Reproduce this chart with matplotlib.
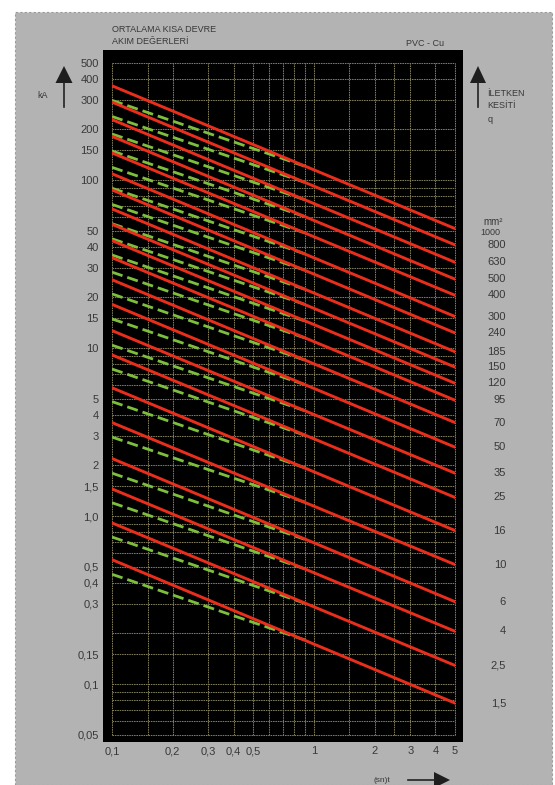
import numpy as np
import matplotlib
matplotlib.use("Agg")
from matplotlib import pyplot as plt
from matplotlib.patches import Rectangle, Polygon
from matplotlib.lines import Line2D
from matplotlib.transforms import blended_transform_factory

plt.rcParams['font.family'] = ['Liberation Sans', 'DejaVu Sans']

# cross sections (mm2) and short circuit current (kA)
sections = ["1,5", "2,5", "4", "6", "10", "16", "25", "35", "50", "70", "95",
            "120", "150", "185", "240", "300", "400", "500", "630", "800", "1000"]
red_t = [0.1, 5]
red_start = [0.55, 0.91, 1.45, 2.2, 3.6, 5.8, 9.1, 12.7, 18.2, 25.5, 34.5,
             43.6, 54.5, 67.3, 87.3, 109, 145, 182, 229, 291, 364]   # at t=0.1
red_end = [0.077, 0.129, 0.206, 0.309, 0.514, 0.82, 1.29, 1.8, 2.57, 3.6, 4.89,
           6.17, 7.7, 9.5, 12.3, 15.4, 20.6, 25.7, 32.4, 41.1, 51.4]  # at t=5
green_t = [0.1, 0.9]
green_start = [0.45, 0.75, 1.2, 1.8, 2.95, 4.8, 7.5, 10.4, 14.9, 21, 28.3,
               35.8, 44.7, 55, 71.6, 89.4, 119, 149, 188, 239, 298]
green_end = [0.183, 0.303, 0.485, 0.727, 1.21, 1.94, 3.03, 4.24, 6.06, 8.48, 11.5,
             14.5, 18.2, 22.4, 29.1, 36.4, 48.5, 60.6, 76.4, 97, 121]

y_ticks = [500, 400, 300, 200, 150, 100, 50, 40, 30, 20, 15, 10, 5, 4, 3, 2, 1.5, 1.0,
           0.5, 0.4, 0.3, 0.15, 0.1, 0.05]
y_labels = ["500", "400", "300", "200", "150", "100", "50", "40", "30", "20", "15", "10",
            "5", "4", "3", "2", "1,5", "1,0", "0,5", "0,4", "0,3", "0,15", "0,1", "0,05"]
x_ticks = [0.1, 0.2, 0.3, 0.4, 0.5, 1, 2, 3, 4, 5]
x_labels = ["0,1", "0,2", "0,3", "0,4", "0,5", "1", "2", "3", "4", "5"]
x_grid = [0.1, 0.15, 0.2, 0.3, 0.4, 0.5, 0.6, 0.7, 0.8, 0.9, 1, 1.5, 2, 2.5, 3, 4, 5]
y_grid = [m * 10.0**e for e in range(-2, 3) for m in (1, 1.5, 2, 3, 4, 5, 6, 7, 8, 9)
          if 0.05 <= m * 10.0**e <= 500]

W, H = 555, 785
fig = plt.figure(figsize=(W / 100, H / 100), dpi=100)
fig.patch.set_facecolor("white")

def fx(px):
    return px / W

def fy(py):
    return 1 - py / H

text_col = "#383838"
# grey panel and black frame (behind the axes)
fig.patches.append(Rectangle((fx(15), 0), fx(537), fy(12), transform=fig.transFigure,
                             facecolor="#b3b3b3", edgecolor="#9a9a9a", lw=0.8,
                             linestyle=(0, (2, 2)), zorder=-2))
fig.patches.append(Rectangle((fx(103), fy(742)), fx(360), fy(50) - fy(742),
                             transform=fig.transFigure, facecolor="black", zorder=-1))

ax = fig.add_axes([fx(112), fy(734.6), fx(455) - fx(112), fy(62.6) - fy(734.6)])
ax.set_facecolor("black")
ax.set_xscale("log")
ax.set_yscale("log")
ax.set_xlim(0.1, 5)
ax.set_ylim(0.05, 500)
for s in ax.spines.values():
    s.set_visible(False)

grid_kw = dict(color="#807c58", lw=0.75, linestyle=(0, (1.5, 0.8)), zorder=1, clip_on=False)
for g in x_grid:
    ax.axvline(g, **grid_kw)
for g in y_grid:
    ax.axhline(g, **grid_kw)

for i in range(len(sections)):
    ax.plot(green_t, [green_start[i], green_end[i]], color="#7dbf3c", lw=2.0,
            linestyle=(0, (4, 1.8)), zorder=2, solid_capstyle="butt")
    ax.plot(red_t, [red_start[i], red_end[i]], color="#ea2e1c", lw=2.1, zorder=3)

ax.set_yticks(y_ticks)
ax.set_yticklabels(y_labels)
ax.set_xticks(x_ticks)
ax.set_xticklabels(x_labels)
ax.minorticks_off()
ax.tick_params(axis="y", length=0, pad=9.5, labelsize=8, labelcolor=text_col)
ax.tick_params(axis="x", length=0, pad=8.5, labelsize=8, labelcolor=text_col)

# right side cross section labels at the end of each red line
tr = blended_transform_factory(fig.transFigure, ax.transData)
for i, lab in enumerate(sections):
    if lab == "1000":
        ax.annotate(lab, (fx(500), red_end[i]), xycoords=tr, xytext=(0, -3),
                    textcoords="offset points", ha="right", va="center",
                    fontsize=6.5, color=text_col, annotation_clip=False)
        ax.annotate("mm²", (fx(503), red_end[i]), xycoords=tr, xytext=(0, 1),
                    textcoords="offset points", ha="right", va="bottom",
                    fontsize=7, color=text_col, annotation_clip=False)
    else:
        ax.text(fx(506), red_end[i], lab, transform=tr, ha="right", va="center",
                fontsize=8, color=text_col, clip_on=False)

# texts
fig.text(fx(112), fy(29), "ORTALAMA KISA DEVRE", fontsize=6.5, color=text_col, va="center")
fig.text(fx(112), fy(42), "AKIM DEĞERLERİ", fontsize=6.5, color=text_col, va="center")
fig.text(fx(425), fy(43), "PVC - Cu", fontsize=6.5, color=text_col, va="center", ha="center")
fig.text(fx(43), fy(95), "kA", fontsize=6.5, color=text_col, va="center", ha="center")
fig.text(fx(487), fy(93), "İLETKEN", fontsize=6.5, color=text_col, va="center")
fig.text(fx(487), fy(106), "KESİTİ", fontsize=6.5, color=text_col, va="center")
fig.text(fx(488), fy(120), "q", fontsize=6.5, color=text_col, va="center")
fig.text(fx(382), fy(781), "(sn)t", fontsize=6, color=text_col, va="center", ha="center")

# arrows
def up_arrow(x, tip, base, bottom, hw):
    fig.lines.append(Line2D([fx(x), fx(x)], [fy(base), fy(bottom)], transform=fig.transFigure,
                            color="#222222", lw=1.2))
    fig.patches.append(Polygon([(fx(x - hw), fy(base)), (fx(x + hw), fy(base)), (fx(x), fy(tip))],
                               closed=True, transform=fig.transFigure, facecolor="#1e1e1e",
                               edgecolor="none"))

up_arrow(64, 66, 83, 107, 8.5)
up_arrow(478, 66, 83, 107, 8)
fig.lines.append(Line2D([fx(408), fx(436)], [fy(780), fy(780)], transform=fig.transFigure,
                        color="#222222", lw=1.2))
fig.patches.append(Polygon([(fx(434), fy(772)), (fx(434), fy(788)), (fx(450), fy(780))],
                           closed=True, transform=fig.transFigure, facecolor="#1e1e1e",
                           edgecolor="none"))

fig.savefig("out.png", dpi=100, facecolor=fig.get_facecolor())
